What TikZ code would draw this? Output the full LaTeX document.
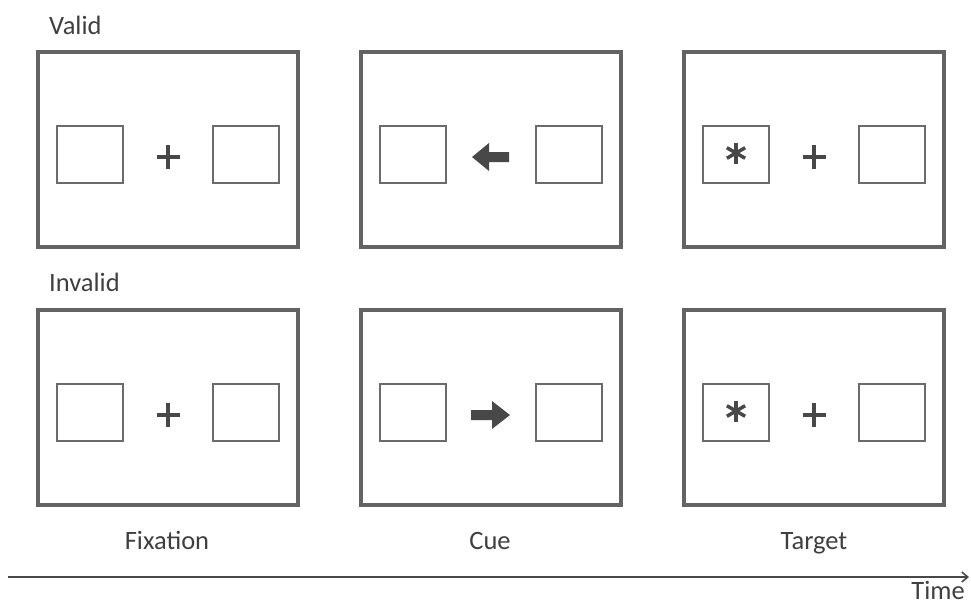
\documentclass[tikz,border=0pt]{standalone}
\usepackage{fontspec}
\setmainfont{Carlito}
\usetikzlibrary{arrows.meta,calc}
\definecolor{framegray}{HTML}{636363}
\definecolor{boxgray}{HTML}{6B6B6B}
\definecolor{markgray}{HTML}{484848}
\definecolor{textgray}{HTML}{3F3F3F}
\tikzset{
  screen/.style={draw=framegray, line width=3.5pt, minimum width=260pt, minimum height=195pt, inner sep=0pt},
  placeholder/.style={draw=boxgray, line width=2.4pt, minimum width=66pt, minimum height=57pt, inner sep=0pt},
  lbl/.style={text=textgray, font=\fontsize{26.5}{31}\selectfont, inner sep=0pt},
  plusbar/.style={draw=markgray, line width=4.4pt},
  starbar/.style={draw=markgray, line width=3.5pt},
  cuearrow/.style={fill=markgray, draw=none}
}
\begin{document}
\begin{tikzpicture}[x=1pt,y=-1pt]
\useasboundingbox (0,0) rectangle (971,606);

% the six screens: rows = valid / invalid, columns = fixation / cue / target
\foreach \r/\yc in {1/149.5, 2/407.5}{
  \foreach \c/\xc in {1/168, 2/491, 3/814}{
    \node[screen] (s\r\c) at (\xc,\yc) {};
    \node[placeholder] (l\r\c) at ([xshift=-78pt,yshift=-5pt]s\r\c.center) {};
    \node[placeholder] (r\r\c) at ([xshift=78pt,yshift=-5pt]s\r\c.center) {};
  }
}

% fixation crosses
\foreach \n in {11,13,21,23}{
  \coordinate (x\n) at ([yshift=-7.5pt]s\n.center);
  \draw[plusbar] ([xshift=-11.5pt]x\n) -- ([xshift=11.5pt]x\n);
  \draw[plusbar] ([yshift=-12pt]x\n) -- ([yshift=12pt]x\n);
}

% targets (asterisks) in the left placeholder
\foreach \n in {13,23}{
  \coordinate (t\n) at ([yshift=1.5pt]l\n.center);
  \foreach \a in {90,30,150}{
    \draw[starbar] ($(t\n)+(\a:10.5pt)$) -- ($(t\n)+(\a+180:10.5pt)$);
  }
}

% cues: left arrow (valid), right arrow (invalid)
\coordinate (c12) at ([yshift=-7.5pt]s12.center);
\fill[cuearrow] ([xshift=-19pt]c12) -- ([xshift=-2pt,yshift=-14pt]c12) -- ([xshift=-2pt,yshift=-5pt]c12)
  -- ([xshift=18pt,yshift=-5pt]c12) -- ([xshift=18pt,yshift=5pt]c12) -- ([xshift=-2pt,yshift=5pt]c12)
  -- ([xshift=-2pt,yshift=14pt]c12) -- cycle;
\coordinate (c22) at ([yshift=-7.5pt]s22.center);
\fill[cuearrow] ([xshift=19pt]c22) -- ([xshift=1pt,yshift=-14pt]c22) -- ([xshift=1pt,yshift=-5pt]c22)
  -- ([xshift=-20pt,yshift=-5pt]c22) -- ([xshift=-20pt,yshift=5pt]c22) -- ([xshift=1pt,yshift=5pt]c22)
  -- ([xshift=1pt,yshift=14pt]c22) -- cycle;

% row and column labels
\node[lbl, anchor=base west] (valid) at (49,34) {Valid};
\node[lbl, anchor=base west] (invalid) at (49,291) {Invalid};
\node[lbl, anchor=base] (fix) at (167,549) {Fixation};
\node[lbl, anchor=base] (cue) at (490,549) {Cue};
\node[lbl, anchor=base] (tgt) at (814,549) {Target};

% time axis
\coordinate (t0) at (8,577);
\coordinate (t1) at (969,577);
\draw[draw=markgray, line width=1.6pt, -{Straight Barb[length=6pt,width=10pt]}] (t0) -- (t1);
\node[lbl, anchor=base east] (time) at (965,599.5) {Time};
\end{tikzpicture}
\end{document}
